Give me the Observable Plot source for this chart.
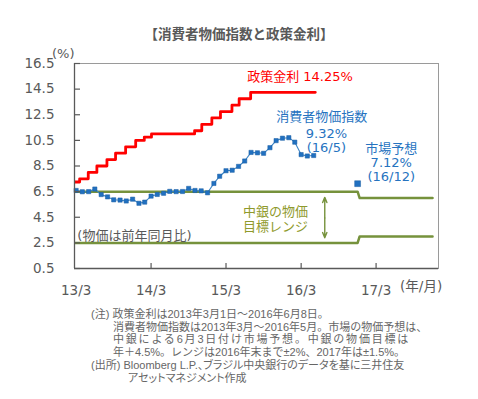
<!DOCTYPE html>
<html><head><meta charset="utf-8">
<script src="https://cdn.jsdelivr.net/npm/d3@7"></script>
<script src="https://cdn.jsdelivr.net/npm/@observablehq/plot@0.6"></script>
<style>
body{margin:0;background:#fff;width:478px;height:399px;overflow:hidden;}
#title{position:relative;height:40px;}
#title span{position:absolute;left:0;width:478px;text-align:center;top:24px;line-height:18px;font-family:"Noto Sans CJK JP",sans-serif;font-weight:bold;font-size:13.5px;color:#595959;}
#chart svg{display:block;}
#notes{position:relative;height:99px;font-family:"Liberation Sans","Noto Sans CJK JP",sans-serif;font-size:11px;color:#666;}
#notes div{position:absolute;white-space:nowrap;line-height:12.8px;height:12.8px;}
</style></head><body>
<div id="title"><span>【消費者物価指数と政策金利】</span></div>
<div id="chart"></div>
<div id="notes"></div>
<script>
// ---- data ----
const cpiMonths = ["2013-03","2013-04","2013-05","2013-06","2013-07","2013-08","2013-09","2013-10","2013-11","2013-12",
  "2014-01","2014-02","2014-03","2014-04","2014-05","2014-06","2014-07","2014-08","2014-09","2014-10","2014-11","2014-12",
  "2015-01","2015-02","2015-03","2015-04","2015-05","2015-06","2015-07","2015-08","2015-09","2015-10","2015-11","2015-12",
  "2016-01","2016-02","2016-03","2016-04","2016-05"];
const cpiValues = [6.59,6.49,6.50,6.70,6.27,6.09,5.86,5.84,5.77,5.91,
  5.59,5.68,6.15,6.28,6.37,6.52,6.50,6.51,6.75,6.59,6.56,6.41,
  7.14,7.70,8.13,8.17,8.47,8.89,9.56,9.53,9.49,9.93,10.48,10.67,
  10.71,10.36,9.39,9.28,9.32];
const rateDates = ["2013-03-01","2013-04-17","2013-05-29","2013-07-10","2013-08-28","2013-10-09","2013-11-27",
  "2014-01-15","2014-02-26","2014-04-02","2014-10-29","2014-12-03","2015-01-21","2015-03-04","2015-04-29",
  "2015-06-03","2015-07-29","2016-06-08"];
const rateValues = [7.25,7.5,8,8.5,9,9.5,10,10.5,10.75,11,11.25,11.75,12.25,12.75,13.25,13.75,14.25,14.25];
const forecastMonths = ["2016-12"];
const forecastValues = [7.12];
const bandDates = ["2013-03-01","2016-12-31","2017-01-10","2017-12-31"];
const bandUpper = [6.5,6.5,6.0,6.0];
const bandLower = [2.5,2.5,3.0,3.0];
const yTicks = [0.5,2.5,4.5,6.5,8.5,10.5,12.5,14.5,16.5];
const xTickDates = ["2013-03-31","2014-03-31","2015-03-31","2016-03-31","2017-03-31"];
const xTickLabels = ["13/3","14/3","15/3","16/3","17/3"];

// ---- helpers ----
const monthEnd = m => d3.utcDay.offset(d3.utcMonth.offset(new Date(m + "-01T00:00Z"), 1), -1);
const day = s => new Date(s + "T00:00Z");
const cpi = cpiMonths.map((m, i) => ({date: monthEnd(m), value: cpiValues[i]}));
const rate = rateDates.map((d, i) => ({date: day(d), value: rateValues[i]}));
const forecast = forecastMonths.map((m, i) => ({date: monthEnd(m), value: forecastValues[i]}));
const band = bandDates.map((d, i) => ({date: day(d), upper: bandUpper[i], lower: bandLower[i]}));
const xTicks = xTickDates.map(day);

const X0 = day("2013-03-23"), X1 = day("2018-01-29");
const W = 478, ML = 74, MR = 40, H = 260, MT = 23, MB = 32;
const msPerPx = (X1 - X0) / (W - ML - MR);
const unitPerPx = (16.5 - 0.5) / (H - MT - MB);
const yTickEnd = new Date(+X0 + 6 * msPerPx);

const gray = "#595959";
const blue = "#2673bf";
const olive = "#76923c";
const latin = '"DejaVu Sans","Noto Sans CJK JP",sans-serif';
const note = (s, x, y, o = {}) => Plot.text([s], {x: () => day(x), y: () => y, text: d => d, fontSize: 13, textAnchor: "start", ...o});

const chart = Plot.plot({
  width: W, height: H, marginTop: MT, marginBottom: MB, marginLeft: ML, marginRight: MR,
  x: {type: "utc", domain: [X0, X1], label: null},
  y: {domain: [0.5, 16.5], label: null},
  style: {fontFamily: latin, fontSize: "13.5px", color: gray, background: "white", overflow: "visible"},
  marks: [
    Plot.frame({stroke: "#9a9a9a"}),
    // target band
    Plot.line(band, {x: "date", y: "upper", stroke: olive, strokeWidth: 2.5, clip: true}),
    Plot.line(band, {x: "date", y: "lower", stroke: olive, strokeWidth: 2.5, clip: true}),
    // policy rate
    Plot.line(rate, {x: "date", y: "value", curve: "step-after", stroke: "#ff0000", strokeWidth: 2.8, clip: true}),
    // CPI
    Plot.line(cpi, {x: "date", y: "value", stroke: "#3d85c6", strokeWidth: 1.1}),
    Plot.dot(cpi, {x: "date", y: "value", symbol: "square", r: 2.4, fill: "#2170c0", stroke: "#1a5ea3", strokeWidth: 0.5}),
    Plot.dot(forecast, {x: "date", y: "value", symbol: "square", r: 3.3, fill: "#2170c0", stroke: "#1a5ea3", strokeWidth: 0.5}),
    // range arrow
    Plot.arrow([0], {x1: () => day("2016-07-24"), x2: () => day("2016-07-24"), y1: 4.45, y2: 6.05, stroke: olive, strokeWidth: 1.4, headLength: 6, headAngle: 45}),
    Plot.arrow([0], {x1: () => day("2016-07-24"), x2: () => day("2016-07-24"), y1: 4.45, y2: 2.9, stroke: olive, strokeWidth: 1.4, headLength: 6, headAngle: 45}),
    // axes
    Plot.ruleX([X0], {stroke: gray, strokeWidth: 1.3}),
    Plot.ruleY([0.5], {stroke: gray, strokeWidth: 1.3}),
    Plot.ruleY(yTicks, {x1: () => X0, x2: () => yTickEnd, stroke: gray, strokeWidth: 1.2}),
    Plot.ruleX(xTicks.slice(1), {y1: 0.5, y2: 0.5 + 5 * unitPerPx, stroke: gray, strokeWidth: 1.2}),
    Plot.axisY(yTicks, {tickSize: 0, tickPadding: 20, tickFormat: d => d.toFixed(1), fontSize: 13.5}),
    Plot.axisX(xTicks, {tickSize: 0, tickPadding: 17, fontSize: 13.5,
      tickFormat: d => xTickLabels[xTicks.findIndex(t => +t === +d)]}),
    Plot.text(["(%)"], {frameAnchor: "top-left", dx: -22.5, dy: -15, fontSize: 13, fill: gray}),
    Plot.text(["(年/月)"], {frameAnchor: "bottom-right", dx: 3.7, dy: 22, fontSize: 13.5, fill: gray}),
    // annotations
    note("政策金利 14.25%", "2015-07-12", 15.43, {fill: "#ff0000"}),
    note("消費者物価指数", "2015-12-01", 12.36, {fill: blue}),
    note("9.32%\n(16/5)", "2016-08-01", 10.49, {fill: blue, textAnchor: "middle", lineHeight: 1.12}),
    note("市場予想\n7.12%\n(16/12)", "2017-06-13", 8.8, {fill: blue, textAnchor: "middle", lineHeight: 1.09}),
    note("中銀の物価\n目標レンジ", "2015-06-22", 4.375, {fill: "#8f9a2c", lineHeight: 1.13,
      fontFamily: '"Liberation Sans","Noto Sans CJK JP",sans-serif'}),
    note("(物価は前年同月比)", "2013-04-06", 3.08, {fill: gray})
  ]
});
document.getElementById("chart").appendChild(chart);

const noteLines = [
  {t: "(注) 政策金利は2013年3月1日～2016年6月8日。", x: 91, y: 7.6},
  {t: "消費者物価指数は2013年3月～2016年5月。市場の物価予想は、", x: 113, y: 20.5},
  {t: "中銀による6月3日付け市場予想。中銀の物価目標は", x: 113, y: 33.3, ls: "1.8px"},
  {t: "年＋4.5%。レンジは2016年末まで±2%、2017年は±1.5%。", x: 113, y: 46.2},
  {t: "(出所) Bloomberg L.P.、ブラジル中央銀行のデータを基に三井住友", x: 91, y: 59.0, palt: true},
  {t: "アセットマネジメント作成", x: 128, y: 71.9, palt: true}
];
const notes = document.getElementById("notes");
for (const l of noteLines) {
  const d = document.createElement("div");
  d.textContent = l.t;
  d.style.left = l.x + "px";
  d.style.top = l.y + "px";
  if (l.ls) d.style.letterSpacing = l.ls;
  if (l.palt) d.style.fontFeatureSettings = '"palt"';
  notes.appendChild(d);
}
</script>
</body></html>
